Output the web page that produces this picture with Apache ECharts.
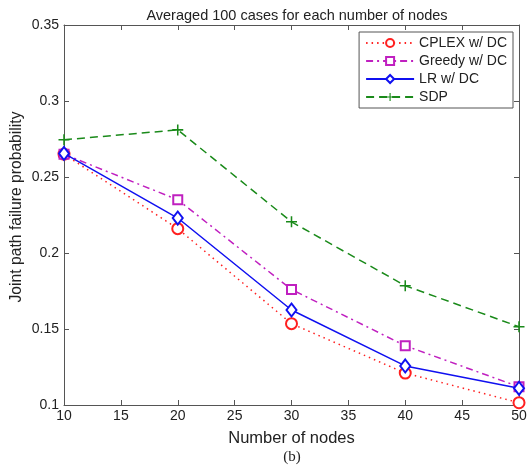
<!DOCTYPE html>
<html>
<head>
<meta charset="utf-8">
<script src="https://cdn.jsdelivr.net/npm/echarts@6/dist/echarts.min.js"></script>
<style>html,body{margin:0;padding:0;background:#fff}#c{width:528px;height:472px}</style>
</head>
<body>
<div id="c"></div>
<script>
const nodes = [10, 20, 30, 40, 50];
const cplex = [0.265, 0.216, 0.1535, 0.121, 0.1015];
const greedy = [0.265, 0.235, 0.176, 0.139, 0.112];
const lr = [0.2655, 0.223, 0.1625, 0.1257, 0.111];
const sdp = [0.2745, 0.281, 0.2205, 0.1785, 0.1515];
const seriesNames = ['CPLEX w/ DC', 'Greedy w/ DC', 'LR w/ DC', 'SDP'];

const pair = (ys) => nodes.map((x, i) => [x, ys[i]]);
const font = 'Liberation Sans, Arial, Helvetica, sans-serif';
const axisCol = '#555';
const plusPath = 'path://M4.3,0H5.7V4.3H10V5.7H5.7V10H4.3V5.7H0V4.3H4.3Z';

const chart = echarts.init(document.getElementById('c'), null, {renderer: 'canvas'});
const baseX = {
  type: 'value', min: 10, max: 50, interval: 5,
  axisLine: {show: true, onZero: false, lineStyle: {color: axisCol, width: 1}},
  axisTick: {show: true, inside: true, length: 5, lineStyle: {color: axisCol}},
  splitLine: {show: false}
};
const baseY = {
  type: 'value', min: 0.1, max: 0.35, interval: 0.05,
  axisLine: {show: true, onZero: false, lineStyle: {color: axisCol, width: 1}},
  axisTick: {show: true, inside: true, length: 5, lineStyle: {color: axisCol}},
  splitLine: {show: false}
};
chart.setOption({
  animation: false,
  backgroundColor: '#fff',
  title: {
    text: 'Averaged 100 cases for each number of nodes',
    left: 292, top: 3, textAlign: 'center',
    textStyle: {fontFamily: font, fontSize: 14.5, fontWeight: 'normal', color: '#222'}
  },
  grid: {left: 64, right: 9, top: 25, bottom: 67, containLabel: false, outerBoundsMode: 'none'},
  legend: {
    orient: 'vertical', right: 15, top: 32,
    data: seriesNames,
    itemWidth: 48, itemHeight: 10, itemGap: 4,
    backgroundColor: '#fff', borderColor: '#555', borderWidth: 1, borderRadius: 0,
    padding: [4, 6, 4, 6],
    textStyle: {fontFamily: font, fontSize: 14, color: '#222'}
  },
  xAxis: [
    Object.assign({}, baseX, {
      position: 'bottom',
      name: 'Number of nodes', nameLocation: 'middle', nameGap: 25, nameMoveOverlap: false,
      nameTextStyle: {fontFamily: font, fontSize: 16.5, color: '#222', verticalAlign: 'top'},
      axisLabel: {fontFamily: font, fontSize: 14, color: '#222', margin: 4}
    }),
    Object.assign({}, baseX, {position: 'top', axisLabel: {show: false}})
  ],
  yAxis: [
    Object.assign({}, baseY, {
      position: 'left',
      name: 'Joint path failure probability', nameLocation: 'middle', nameGap: 39, nameMoveOverlap: false,
      nameTextStyle: {fontFamily: font, fontSize: 15.7, color: '#222', padding: [0, 0, 0, 16]},
      axisLabel: {fontFamily: font, fontSize: 14, color: '#222', margin: 5}
    }),
    Object.assign({}, baseY, {position: 'right', axisLabel: {show: false}})
  ],
  graphic: [{
    type: 'text', x: 292, y: 450,
    style: {text: '(b)', font: '15px "Liberation Serif", "Times New Roman", serif', fill: '#222', textAlign: 'center'}
  }],
  series: [
    {
      name: seriesNames[0], type: 'line', data: pair(cplex),
      symbol: 'emptyCircle', symbolSize: 11, z: 2,
      lineStyle: {color: '#ff2020', width: 1.5, type: [1.5, 4]},
      itemStyle: {color: '#ff2020', borderWidth: 1.5}
    },
    {
      name: seriesNames[1], type: 'line', data: pair(greedy),
      symbol: 'emptyRect', symbolSize: 9, z: 3,
      lineStyle: {color: '#c020c0', width: 1.5, type: [7, 4, 2, 4]},
      itemStyle: {color: '#c020c0', borderWidth: 1.5}
    },
    {
      name: seriesNames[2], type: 'line', data: pair(lr),
      symbol: 'emptyDiamond', symbolSize: [10, 13], z: 4,
      lineStyle: {color: '#1010f0', width: 1.5, type: 'solid'},
      itemStyle: {color: '#1010f0', borderWidth: 1.5}
    },
    {
      name: seriesNames[3], type: 'line', data: pair(sdp),
      symbol: plusPath, symbolSize: 11, z: 5,
      lineStyle: {color: '#1a8a1a', width: 1.5, type: [8, 5]},
      itemStyle: {color: '#1a8a1a'}
    }
  ]
});
</script>
</body>
</html>
